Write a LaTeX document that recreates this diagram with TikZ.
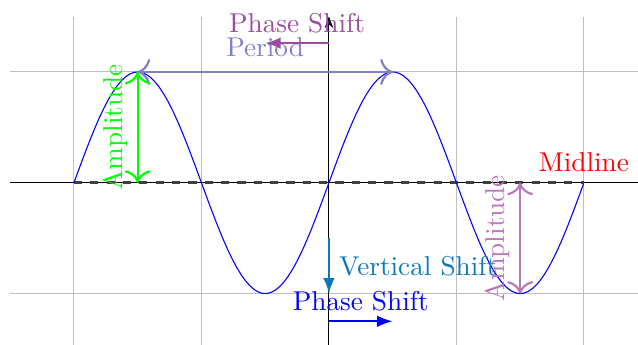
\documentclass[tikz,border=0pt]{standalone}
\usepackage{xcolor}
\usepackage{tikz}
\usetikzlibrary{arrows.meta}

\definecolor{phasecol}{RGB}{155,75,160}
\definecolor{periodcol}{RGB}{128,128,200}
\definecolor{ampcol}{RGB}{185,120,185}
\definecolor{vshiftcol}{RGB}{10,120,190}

\begin{document}
\begin{tikzpicture}[
			x=1.645cm, y=1.43cm,
			font=\normalsize,
			gridline/.style={gray!50, thin},
			axis/.style={-{Stealth[length=1.5mm]}},
			arr/.style={-{Latex[length=2mm]}, thick},
			dblarr/.style={{To[length=1.6mm]}-{To[length=1.6mm]}, thick}
			]
			
			\useasboundingbox (-2.58,-1.46) rectangle (2.424,1.649);
			
			\foreach \gx in {-2,...,2}
				\draw[gridline] (\gx,-1.5) -- (\gx,1.5);
			\foreach \gy in {-1,0,1}
				\draw[gridline] (-2.5,\gy) -- (2.5,\gy);
			
			\draw[axis] (-2.5,0) -- (2.6,0);
			\draw[axis] (0,-1.5) -- (0,1.5);
			
			\coordinate (left) at (-2,0);
			\coordinate (right) at (2,0);
			\draw[dashed, very thick, black!75] (left) -- (right)
				node[above, red] (midline) {Midline};
			
			\draw[blue, domain=-2:2, samples=120] plot (\x, {sin(180*\x)});
			
			\coordinate (peak) at (-1.5,1);
			\coordinate (peak2) at (0.5,1);
			\coordinate (base) at (-1.5,0);
			\coordinate (trough) at (1.5,-1);
			\coordinate (base2) at (1.5,0);
			
			\draw[dblarr, periodcol] (peak) -- node[above, yshift=2pt] (period) {Period} (peak2);
			\draw[dblarr, green] (base) -- node[above, sloped] (amp) {Amplitude} (peak);
			\draw[dblarr, ampcol] (trough) -- node[above, sloped] (amp2) {Amplitude} (base2);
			
			\coordinate (ps1) at (0,1.26);
			\coordinate (ps1e) at (-0.5,1.26);
			\draw[arr, phasecol] (ps1) -- node[above] (phase) {Phase Shift} (ps1e);
			
			\coordinate (vs) at (0,-0.5);
			\coordinate (vse) at (0,-1);
			\draw[arr, vshiftcol] (vs) -- node[right] (vshift) {Vertical Shift} (vse);
			
			\coordinate (ps2) at (0,-1.25);
			\coordinate (ps2e) at (0.5,-1.25);
			\draw[arr, blue] (ps2) -- node[above] (phase2) {Phase Shift} (ps2e);
			
		\end{tikzpicture}
\end{document}
